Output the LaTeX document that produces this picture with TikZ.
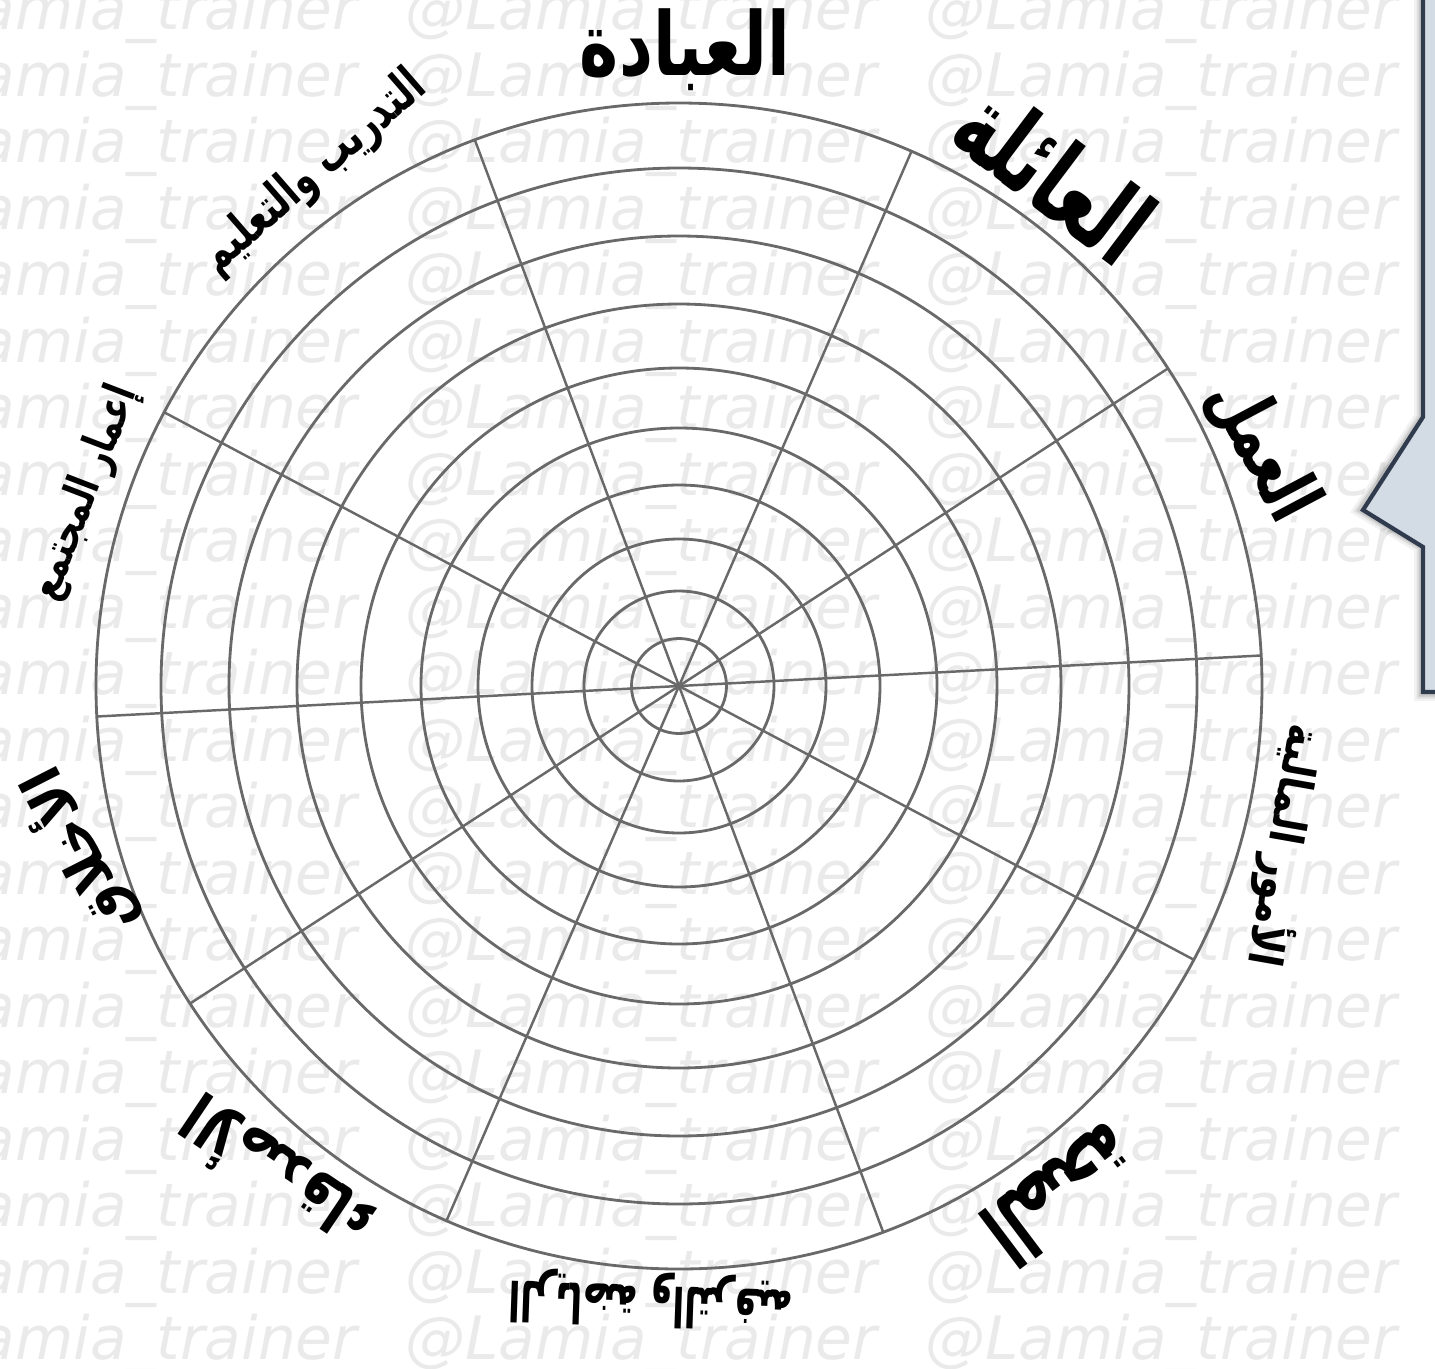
\documentclass[tikz,border=0pt]{standalone}
\usepackage{fontspec}
\usepackage{graphicx}
\newfontfamily\arabicfont[Script=Arabic]{DejaVu Sans}
\newfontfamily\wmfont{DejaVu Sans}
\TeXXeTstate=1
\definecolor{ringgray}{RGB}{105,105,105}
\definecolor{calloutfill}{RGB}{211,219,229}
\definecolor{calloutedge}{RGB}{48,60,78}
\definecolor{wmgray}{RGB}{234,234,234}
\newcommand\artext[3]{\resizebox*{#1}{#2}{\arabicfont\bfseries #3}}
\begin{document}
\begin{tikzpicture}[x=0.01cm,y=-0.01cm,
  ring/.style={draw=ringgray,line width=0.8pt},
  spoke/.style={draw=ringgray,line width=0.7pt},
  lab/.style={inner sep=0pt,text=black},
  wm/.style={text=wmgray,font=\wmfont\itshape\fontsize{17}{20}\selectfont,inner sep=0pt,anchor=west},
  callout/.style={fill=calloutfill,draw=calloutedge,line width=1.2pt,line join=miter}]
\useasboundingbox (0,0) rectangle (1435,1369);
\fill[white] (0,0) rectangle (1435,1369);
% watermark
\begin{scope}
\clip (0,0) rectangle (1435,1369);
\foreach \r in {0,...,20}{
  \foreach \c in {-1,...,2}{
    \node[wm] (wm\r-\c) at ({405+520*\c},{14+66.5*\r}) {@Lamia\_trainer};
  }
}
\end{scope}
% wheel
\coordinate (c) at (679,686);
\foreach \a in {3,33,66.5,110.5,152}{
  \draw[spoke] ({679+583*cos(\a)},{686-583*sin(\a)}) -- (c) -- ({679-583*cos(\a)},{686+583*sin(\a)});
}
\foreach \rr in {47.5,95,147,201,258,318,382,450,518,583}{
  \draw[ring] (c) circle[radius=\rr*0.01cm];
}
% labels
\node[lab] (ibada) at (685,50) {\artext{2.1cm}{0.82cm}{\beginR العبادة\endR}};
\node[lab,rotate=-37] (aila) at (1055,173) {\artext{2.15cm}{0.8cm}{\beginR العائلة\endR}};
\node[lab,rotate=-62] (amal) at (1262,450) {\artext{1.5cm}{0.72cm}{\beginR العمل\endR}};
\node[lab,rotate=-100] (umur) at (1285,846) {\artext{2.45cm}{0.55cm}{\beginR الأمور المالية\endR}};
\node[lab,rotate=-143] (sihha) at (1062,1195) {\artext{1.65cm}{0.7cm}{\beginR الصحة\endR}};
\node[lab,rotate=178] (riyada) at (651,1300) {\artext{2.85cm}{0.55cm}{\beginR الرياضة والترفيه\endR}};
\node[lab,rotate=146] (asdiqa) at (275,1175) {\artext{2.15cm}{0.65cm}{\beginR الأصدقاء\endR}};
\node[lab,rotate=117] (akhlaq) at (77,852) {\artext{1.8cm}{0.65cm}{\beginR الأخلاق\endR}};
\node[lab,rotate=69] (imar) at (85,493) {\artext{2.25cm}{0.45cm}{\beginR إعمار المجتمع\endR}};
\node[lab,rotate=41] (tadrib) at (314,173) {\artext{2.8cm}{0.5cm}{\beginR التدريب والتعليم\endR}};
% callout (cut off at the right edge)
\foreach \w/\o in {14/0.05,9/0.07,5/0.1}{
  \draw[black,opacity=\o,line width=\w*0.01cm,line join=miter]
    (1421,-20) -- (1421,417) -- (1360,510) -- (1421,547) -- (1421,694) -- (1460,694);
}
\draw[callout] (1423,-20) -- (1423,417) -- (1363,510) -- (1423,547) -- (1423,692) -- (1460,692) -- (1460,-20) -- cycle;
\end{tikzpicture}
\end{document}
